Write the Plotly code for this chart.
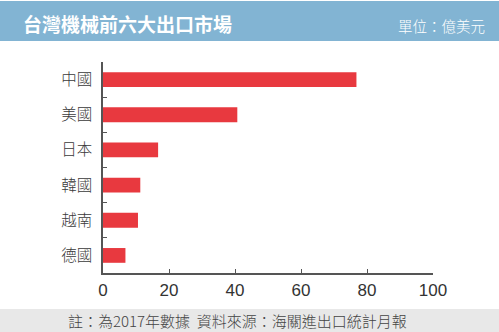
import plotly.graph_objects as go

# Top six export markets for Taiwan machinery (100 million USD)
markets = ["中國", "美國", "日本", "韓國", "越南", "德國"]
values = [76.8, 40.7, 16.7, 11.3, 10.6, 6.8]
x_ticks = [0, 20, 40, 60, 80, 100]

title_text = "台灣機械前六大出口市場"
unit_text = "單位：億美元"
note_text = "註：為2017年數據  資料來源：海關進出口統計月報"

W, H = 499, 332
FONT = "Liberation Sans, Arial, Noto Sans CJK TC, sans-serif"
CJK = "Noto Sans CJK TC, sans-serif"

fig = go.Figure(
    go.Bar(
        x=values,
        y=markets,
        orientation="h",
        marker=dict(color="#e8393f", line=dict(width=0)),
        width=0.42,
    )
)

fig.update_layout(
    width=W,
    height=H,
    margin=dict(l=103, r=66, t=62, b=59),
    paper_bgcolor="white",
    plot_bgcolor="white",
    showlegend=False,
    font=dict(family=FONT, color="#333333"),
    xaxis=dict(
        range=[0, 100],
        tickvals=x_ticks,
        ticktext=[str(v) for v in x_ticks],
        showgrid=False,
        zeroline=False,
        showline=True,
        linecolor="#555555",
        linewidth=1.5,
        ticks="inside",
        ticklen=4,
        tickcolor="#555555",
        ticklabelstandoff=1,
        tickfont=dict(size=17, color="#333333", family=FONT),
        fixedrange=True,
    ),
    yaxis=dict(
        categoryorder="array",
        categoryarray=markets[::-1],
        showgrid=False,
        zeroline=False,
        showline=True,
        linecolor="#555555",
        linewidth=1.5,
        ticks="inside",
        tickson="boundaries",
        ticklen=4,
        tickcolor="#555555",
        ticklabelstandoff=6,
        tickfont=dict(size=15.5, color="#3a3a3a", family=CJK, weight=300),
        fixedrange=True,
    ),
    shapes=[
        # header band
        dict(type="rect", xref="paper", yref="paper", x0=-103 / 330, x1=1 + 66 / 330,
             y0=1 + (62 - 41) / 211, y1=1 + (62 - 1) / 211,
             fillcolor="#82b4d3", line=dict(width=0), layer="below"),
        # footer band
        dict(type="rect", xref="paper", yref="paper", x0=-103 / 330, x1=1 + 66 / 330,
             y0=-(332 - 273) / 211, y1=-(309 - 273) / 211,
             fillcolor="#e8e8e8", line=dict(width=0), layer="below"),
    ],
    annotations=[
        dict(text=f"<b>{title_text}</b>", xref="paper", yref="paper",
             x=-(103 - 21) / 330, y=1 + (62 - 24) / 211, xanchor="left", yanchor="middle",
             showarrow=False, font=dict(size=19, color="white", family=CJK)),
        dict(text=unit_text, xref="paper", yref="paper",
             x=1 + (66 - 12) / 330, y=1 + (62 - 25) / 211, xanchor="right", yanchor="middle",
             showarrow=False, font=dict(size=14.5, color="white", family=CJK, weight=300)),
        dict(text=note_text, xref="paper", yref="paper",
             x=(237 - 103) / 330, y=-(320 - 273) / 211, xanchor="center", yanchor="middle",
             showarrow=False, font=dict(size=15, color="#444444", family=CJK, weight=300)),
    ],
)

fig.write_html("out.html")
